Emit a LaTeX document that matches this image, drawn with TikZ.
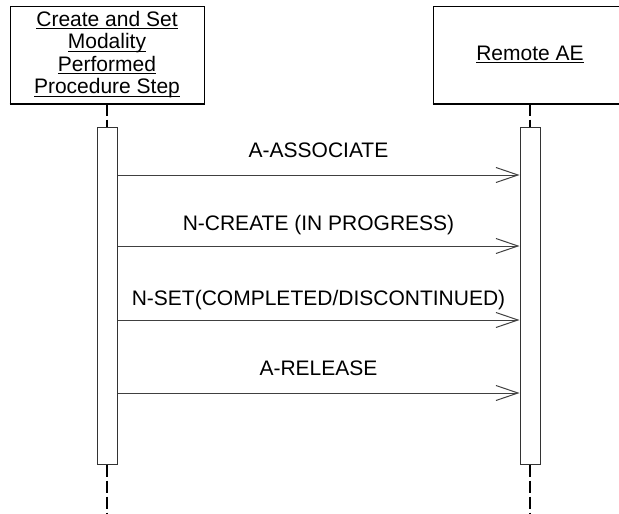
\documentclass[tikz,border=0pt]{standalone}
\usepackage{fontspec}
\setmainfont{Liberation Sans}
\usetikzlibrary{arrows.meta}
\newcommand\myul[1]{\setbox0\hbox{#1}\rlap{\rule[-3pt]{\wd0}{1.1pt}}\box0}
\tikzset{
  objbox/.style={draw=black, line width=1pt, minimum width=194pt, minimum height=97pt, inner sep=0pt, align=center,
                 font=\fontsize{21}{22.5}\selectfont},
  actbar/.style={draw=black!80, line width=1pt, fill=white, minimum width=20pt, minimum height=337pt, inner sep=0pt},
  lifeline/.style={line width=1.6pt, dash pattern=on 12pt off 4pt},
  msg/.style={draw=black!75, line width=1pt, -{Straight Barb[length=22pt,width=15pt,line width=1pt]}},
  msglabel/.style={font=\fontsize{21}{24}\selectfont, anchor=base, inner sep=0pt}
}
\begin{document}
\begin{tikzpicture}[x=1pt,y=-1pt]
\useasboundingbox (0,0) rectangle (619,514);
\clip (0,0) rectangle (619,514);
\node[objbox] (mpps) at (107,54.5) {\myul{Create and Set}\\ \myul{Modality}\\ \myul{Performed}\\ \myul{Procedure Step}};
\node[objbox] (remote) at (530,54.5) {\myul{Remote AE}};
\draw[line width=2pt] (mpps.south west) -- (mpps.south east);
\draw[line width=2pt] (remote.south west) -- (remote.south east);
\node[actbar] (lbar) at (107,295.5) {};
\node[actbar] (rbar) at (530,295.5) {};
\coordinate (lend) at (107,514);
\coordinate (rend) at (530,514);
\draw[lifeline] (mpps.south) -- (lbar.north);
\draw[lifeline] (remote.south) -- (rbar.north);
\draw[lifeline] (lbar.south) -- (lend);
\draw[lifeline] (rbar.south) -- (rend);
% messages
\foreach \y/\n in {175/a,246/b,320/c,393/d}{
  \coordinate (s\n) at (lbar.east |- 0,\y);
  \coordinate (t\n) at (rbar.west |- 0,\y);
  \draw[msg] (s\n) -- (t\n);
}
\node[msglabel] (la) at (318.5,157.5) {A-ASSOCIATE};
\node[msglabel] (lb) at (318.5,230.5) {N-CREATE (IN PROGRESS)};
\node[msglabel] (lc) at (318.5,305) {N-SET(COMPLETED/DISCONTINUED)};
\node[msglabel] (ld) at (318.5,375) {A-RELEASE};
\end{tikzpicture}
\end{document}
